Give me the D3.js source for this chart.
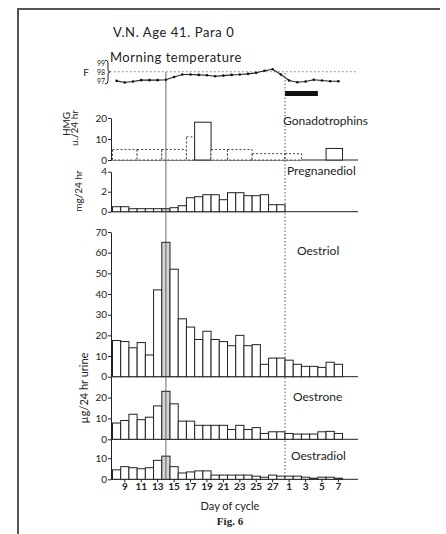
<!DOCTYPE html>
<html lang="en">
<head>
<meta charset="UTF-8">
<script src="https://d3js.org/d3.v7.min.js"></script>
<title>Fig. 6</title>
<style>
  body { margin: 0; padding: 0; background: #fff; }
  svg { display: block; font-family: Lato, "Open Sans", sans-serif; }
  .tx { fill: #222; }
  .axis text { font-size: 10px; fill: #222; font-family: Lato, sans-serif; }
  .axis path, .axis line { stroke: #222; stroke-width: 1; }
  .bar { fill: #fff; stroke: #222; stroke-width: 1; }
  .bar.peak { fill: #d4d4d4; }
  .bar.upper { stroke: #444; stroke-dasharray: 2, 2; }
</style>
</head>
<body>
<div id="fig"></div>
<script>
// one bar per day: days 8..28 of the cycle, then days 1..7 of the next
let days = ["8", "9", "10", "11", "12", "13", "14", "15", "16", "17", "18", "19", "20",
  "21", "22", "23", "24", "25", "26", "27", "28", "1", "2", "3", "4", "5", "6", "7"];
let tickDays = ["9", "11", "13", "15", "17", "19", "21", "23", "25", "27", "1", "3", "5", "7"];

// morning temperature, deg F
let tempF = [96.96, 96.78, 96.88, 97.04, 97.04, 97.04, 97.08, 97.4, 97.68, 97.68, 97.64, 97.6,
  97.48, 97.56, 97.64, 97.68, 97.76, 97.88, 98.12, 98.28, 97.68, 97.0, 96.8, 96.88, 97.08,
  97.0, 96.92, 96.92];
let tempTicks = [97, 98, 99];

// gonadotrophins (HMG u./24 hr), pooled collections; dashed = "less than"
let hmgFrom = ["8", "11", "14", "17", "18", "20", "22", "25", "1", "6"];
let hmgTo = ["10", "13", "16", "17", "19", "21", "24", "28", "2", "7"];
let hmgVal = [5, 5, 5, 11, 18, 5, 5, 3, 3, 5.5];
let hmgLess = [true, true, true, true, false, true, true, true, true, false];

// pregnanediol mg/24 hr, days 8..28
let pregDays = days.slice(0, 21);
let pregVal = [0.5, 0.5, 0.3, 0.3, 0.3, 0.3, 0.3, 0.4, 0.6, 1.4, 1.5, 1.7, 1.7, 1.2, 1.9, 1.9,
  1.6, 1.6, 1.7, 0.7, 0.7];

// oestrogens µg/24 hr urine
let oestriol = [17.5, 17, 14, 16.5, 10.5, 42, 65, 52, 28, 24, 18, 22, 18, 17, 15, 20, 15, 15.5,
  6, 9, 9, 8, 6, 5, 5, 4.5, 7, 6];
let oestrone = [7.8, 9, 12, 9.4, 10.6, 16, 23, 17, 8.7, 8.7, 6.7, 6.7, 6.7, 6.7, 4.7, 6.7, 4.7,
  5.6, 2.8, 3.6, 3.6, 2.8, 2.5, 2.5, 2.5, 3.6, 3.8, 2.8];
let oestradiol = [4.5, 6, 5.5, 5, 5.5, 9, 11, 6, 3, 3.5, 4, 4, 2, 2, 2, 2, 2, 1.5, 1, 2, 1.5,
  1.5, 1.5, 1, 0.5, 1, 1, 0.5];

let peakDay = "14";
let mensesFrom = "1", mensesTo = "4";

let W = 446, H = 534;
let left = 111, right = 358;

let svg = d3.select("#fig").append("svg").attr("width", W).attr("height", H);

// frame
svg.append("path").attr("d", "M18,534V9H440").attr("fill", "none")
  .attr("stroke", "#555").attr("stroke-width", 2);

let x = d3.scaleBand().domain(days).range([112.5, 342.5]).padding(0);
let bw = x.bandwidth();
let cx = d => x(d) + bw / 2;

let yT = d3.scaleLinear().domain([97, 99]).range([80.5, 63]);
let yH = d3.scaleLinear().domain([0, 20]).range([160, 118]);
let yP = d3.scaleLinear().domain([0, 4]).range([211.7, 171.7]);
let yE3 = d3.scaleLinear().domain([0, 70]).range([376.7, 232]);
let yE1 = d3.scaleLinear().domain([0, 30]).range([439.3, 376.7]);
let yE2 = d3.scaleLinear().domain([0, 19]).range([479.3, 439.3]);

function text(str, px, py, size, anchor, rot) {
  let t = svg.append("text").attr("class", "tx").text(str)
    .attr("font-size", size).attr("text-anchor", anchor || "start")
    .attr("dominant-baseline", "central");
  if (rot) t.attr("transform", "translate(" + px + "," + py + ") rotate(-90)");
  else t.attr("x", px).attr("y", py);
  return t;
}

function yAxis(scale, ticks) {
  svg.append("g").attr("class", "axis").attr("transform", "translate(" + left + ",0)")
    .call(d3.axisLeft(scale).tickValues(ticks).tickFormat(d3.format("d"))
      .tickSize(3).tickSizeOuter(0).tickPadding(1));
  svg.append("line").attr("x1", left).attr("x2", right)
    .attr("y1", scale(0)).attr("y2", scale(0)).attr("stroke", "#222");
}

function dailyBars(keys, vals, y) {
  svg.append("g").selectAll("rect").data(keys).enter().append("rect")
    .attr("class", d => d == peakDay ? "bar peak" : "bar")
    .attr("x", d => x(d)).attr("width", bw)
    .attr("y", (d, i) => y(vals[i])).attr("height", (d, i) => y(0) - y(vals[i]));
}

// titles
text("V.N.  Age 41.  Para 0", 113, 32, 13).attr("letter-spacing", 0.6);
text("Morning temperature", 110, 57, 13).attr("letter-spacing", 0.5);

// temperature panel
svg.append("line").attr("x1", 110).attr("x2", right).attr("y1", yT(98)).attr("y2", yT(98))
  .attr("stroke", "#777").attr("stroke-dasharray", "1.5,2.5");
svg.selectAll(".tt").data(tempTicks).enter().append("text").attr("class", "tx tt")
  .attr("x", 101).attr("y", d => yT(d)).attr("font-size", 7).attr("text-anchor", "middle")
  .attr("dominant-baseline", "central").text(d => d);
svg.append("path").attr("d", "M105,60 q3,0 3,3 v7 q0,2 2,2 q-2,0 -2,2 v7 q0,3 -3,3")
  .attr("fill", "none").attr("stroke", "#222");
text("F", 86, yT(98), 10, "middle");

let tLine = d3.line().x((d, i) => cx(days[i])).y(d => yT(d));
svg.append("path").datum(tempF).attr("d", tLine).attr("fill", "none")
  .attr("stroke", "#222").attr("stroke-width", 1.1);
svg.selectAll(".td").data(tempF).enter().append("circle").attr("class", "td")
  .attr("cx", (d, i) => cx(days[i])).attr("cy", d => yT(d)).attr("r", 1.3).attr("fill", "#111");

// menses
svg.append("rect").attr("x", x(mensesFrom)).attr("width", x(mensesTo) + bw - x(mensesFrom))
  .attr("y", 91).attr("height", 5).attr("fill", "#111");

// gonadotrophins
yAxis(yH, [0, 10, 20]);
svg.append("g").selectAll("rect").data(hmgVal).enter().append("rect")
  .attr("class", (d, i) => hmgLess[i] ? "bar upper" : "bar")
  .attr("x", (d, i) => x(hmgFrom[i]))
  .attr("width", (d, i) => x(hmgTo[i]) + bw - x(hmgFrom[i]))
  .attr("y", d => yH(d)).attr("height", d => yH(0) - yH(d));
text("HMG", 66, 124, 10, "middle", true);
text("u./24 hr", 74, 128, 10, "middle", true);
text("Gonadotrophins", 283, 120, 12);

// pregnanediol
yAxis(yP, [0, 2, 4]);
dailyBars(pregDays, pregVal, yP);
text("mg/24 hr", 78, 191, 10, "middle", true);
text("Pregnanediol", 287, 170, 12);

// oestrogens
yAxis(yE3, d3.range(0, 71, 10));
dailyBars(days, oestriol, yE3);
text("Oestriol", 297, 250, 12);

yAxis(yE1, [0, 10, 20]);
dailyBars(days, oestrone, yE1);
text("Oestrone", 293, 396, 12);

yAxis(yE2, [0, 10]);
dailyBars(days, oestradiol, yE2);
text("Oestradiol", 291, 455, 12);

text("\u00b5g/24 hr urine", 83, 388, 11, "middle", true);

// marker lines: peak day and onset of menses
svg.append("line").attr("x1", cx(peakDay)).attr("x2", cx(peakDay)).attr("y1", 72).attr("y2", yE2(0))
  .attr("stroke", "#444").attr("stroke-width", 0.8);
svg.append("line").attr("x1", x(mensesFrom)).attr("x2", x(mensesFrom)).attr("y1", 73).attr("y2", yE2(0))
  .attr("stroke", "#555").attr("stroke-dasharray", "1.5,2");

// day axis
let xa = svg.append("g").attr("class", "axis").attr("transform", "translate(0," + yE2(0) + ")")
  .call(d3.axisBottom(x).tickValues(tickDays).tickSize(3).tickPadding(1));
xa.select(".domain").remove();
xa.selectAll("text").attr("font-size", 10.5).attr("font-weight", "bold");

text("Day of cycle", 230, 505, 11, "middle");
svg.append("text").attr("class", "tx").attr("x", 230).attr("y", 521).attr("text-anchor", "middle")
  .attr("dominant-baseline", "central").attr("font-family", "'Liberation Serif', serif")
  .attr("font-weight", "bold").attr("font-size", 11).text("Fig. 6");
</script>
</body>
</html>
